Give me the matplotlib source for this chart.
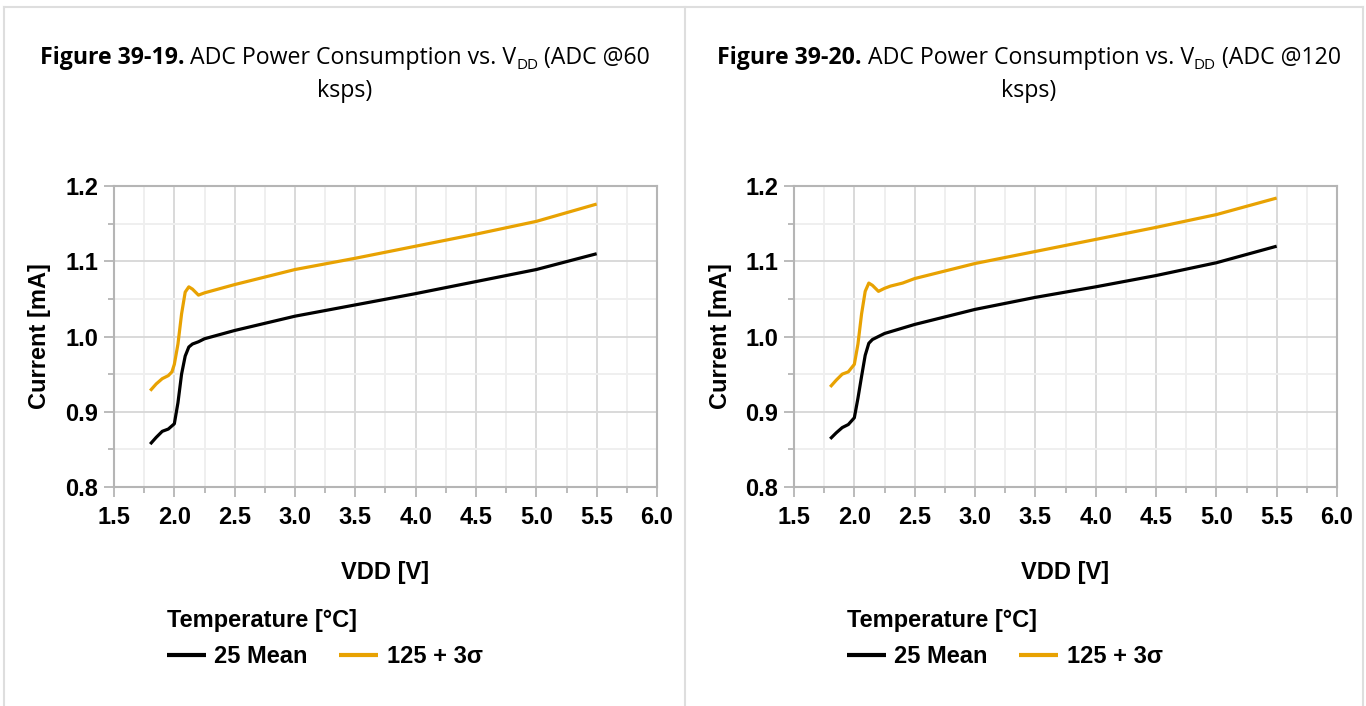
import matplotlib
matplotlib.use("Agg")
import matplotlib.pyplot as plt
from matplotlib.ticker import MultipleLocator
from matplotlib.lines import Line2D

# ---------------- data ----------------
vdd_black_60 = [1.80, 1.85, 1.90, 1.95, 2.00, 2.03, 2.06, 2.09, 2.12, 2.15, 2.20, 2.25, 2.50, 3.00, 3.50, 4.00, 4.50, 5.00, 5.50]
cur_black_60 = [0.857, 0.866, 0.874, 0.877, 0.884, 0.912, 0.950, 0.974, 0.986, 0.990, 0.993, 0.997, 1.008, 1.027, 1.042, 1.057, 1.073, 1.089, 1.110]
vdd_orange_60 = [1.80, 1.85, 1.90, 1.95, 1.98, 2.00, 2.03, 2.06, 2.09, 2.12, 2.15, 2.20, 2.25, 2.50, 3.00, 3.50, 4.00, 4.50, 5.00, 5.50]
cur_orange_60 = [0.928, 0.937, 0.944, 0.948, 0.953, 0.963, 0.990, 1.030, 1.059, 1.066, 1.063, 1.055, 1.058, 1.069, 1.089, 1.104, 1.120, 1.136, 1.153, 1.176]

vdd_black_120 = [1.80, 1.85, 1.90, 1.95, 2.00, 2.03, 2.06, 2.09, 2.12, 2.15, 2.20, 2.25, 2.50, 3.00, 3.50, 4.00, 4.50, 5.00, 5.50]
cur_black_120 = [0.864, 0.872, 0.879, 0.883, 0.892, 0.918, 0.947, 0.975, 0.991, 0.996, 1.000, 1.004, 1.016, 1.036, 1.052, 1.066, 1.081, 1.098, 1.120]
vdd_orange_120 = [1.80, 1.85, 1.90, 1.95, 2.00, 2.03, 2.06, 2.09, 2.12, 2.15, 2.20, 2.25, 2.30, 2.40, 2.50, 3.00, 3.50, 4.00, 4.50, 5.00, 5.50]
cur_orange_120 = [0.933, 0.942, 0.950, 0.953, 0.963, 0.990, 1.030, 1.060, 1.071, 1.068, 1.060, 1.064, 1.067, 1.071, 1.077, 1.097, 1.113, 1.129, 1.145, 1.162, 1.184]

series_labels = ["25 Mean", "125 + 3σ"]
series_colors = ["#000000", "#E8A202"]
legend_title = "Temperature [°C]"
fig_numbers = ["Figure 39-19.", "Figure 39-20."]
rates = ["60", "120"]
x_label = "VDD [V]"
y_label = "Current [mA]"

# ---------------- figure ----------------
W, H = 1366, 706
fig = plt.figure(figsize=(W / 100, H / 100), dpi=100)
plt.rcParams["font.family"] = ["Liberation Sans", "DejaVu Sans"]


def fx(x):
    return x / W


def fy(y):
    return 1 - y / H


frame_col = "#dedede"
for (x0, y0, x1, y1) in [(4, 7, 1363, 7), (4, 7, 4, 706), (685, 7, 685, 706), (1363, 7, 1363, 706)]:
    fig.add_artist(Line2D([fx(x0), fx(x1)], [fy(y0), fy(y1)], color=frame_col, lw=1.5))

panels = [
    dict(left=114, right=657, cx=345, black=(vdd_black_60, cur_black_60), orange=(vdd_orange_60, cur_orange_60)),
    dict(left=794, right=1337, cx=1029, black=(vdd_black_120, cur_black_120), orange=(vdd_orange_120, cur_orange_120)),
]
top, bottom = 186, 487
renderer = fig.canvas.get_renderer()
title_font = ["Open Sans", "DejaVu Sans"]
tsize = 16.7

for i, p in enumerate(panels):
    ax = fig.add_axes([fx(p["left"]), fy(bottom), (p["right"] - p["left"]) / W, (bottom - top) / H])
    ax.set_xlim(1.5, 6.0)
    ax.set_ylim(0.8, 1.2)
    ax.xaxis.set_major_locator(MultipleLocator(0.5))
    ax.xaxis.set_minor_locator(MultipleLocator(0.25))
    ax.yaxis.set_major_locator(MultipleLocator(0.1))
    ax.yaxis.set_minor_locator(MultipleLocator(0.05))
    ax.xaxis.set_major_formatter(matplotlib.ticker.FormatStrFormatter("%.1f"))
    ax.yaxis.set_major_formatter(matplotlib.ticker.FormatStrFormatter("%.1f"))
    ax.set_axisbelow(True)
    ax.grid(which="major", color="#d9d9d9", lw=1.4)
    ax.grid(which="minor", color="#efefef", lw=1.4)
    for s in ax.spines.values():
        s.set_color("#b5b5b5")
        s.set_linewidth(1.5)
    ax.tick_params(which="major", length=7.5, width=1.3, color="#b5b5b5", labelsize=17, pad=4)
    ax.tick_params(which="minor", length=4, width=1.3, color="#b5b5b5")
    ax.tick_params(axis="x", which="major", pad=6)
    for lbl in ax.get_xticklabels() + ax.get_yticklabels():
        lbl.set_fontweight("bold")

    bx, by = p["black"]
    ox, oy = p["orange"]
    l1, = ax.plot(bx, by, color=series_colors[0], lw=2.3, solid_capstyle="butt", label=series_labels[0])
    l2, = ax.plot(ox, oy, color=series_colors[1], lw=2.3, solid_capstyle="butt", label=series_labels[1])

    cx = (p["left"] + p["right"]) / 2
    fig.text(fx(cx), fy(573), x_label, ha="center", va="center", fontsize=17, fontweight="bold")
    fig.text(fx(p["left"] - 74), fy((top + bottom) / 2), y_label, ha="center", va="center",
             rotation=90, fontsize=17, fontweight="bold")

    leg = fig.legend(handles=[l1, l2], labels=series_labels, loc="upper left",
                     bbox_to_anchor=(fx(p["left"] + 41), fy(597)), frameon=False, ncol=2,
                     borderpad=0, handlelength=1.65, handletextpad=0.35, columnspacing=1.35,
                     labelspacing=0.55, title=legend_title, alignment="left",
                     prop=dict(family="Liberation Sans", weight="bold", size=17),
                     title_fontproperties=dict(family="Liberation Sans", weight="bold", size=17))
    for lh in leg.get_lines():
        lh.set_linewidth(3)

    # title: line 1 composed of bold + regular + subscript parts
    parts = [
        (fig_numbers[i] + " ", "bold", tsize, 0),
        ("ADC Power Consumption vs. V", "normal", tsize, 0),
        ("DD", "normal", tsize * 0.66, -5),
        (" (ADC @" + rates[i], "normal", tsize, 0),
    ]
    texts = []
    widths = []
    for s, w, sz, dy in parts:
        t = fig.text(0, fy(64) + dy / H, s, fontsize=sz, fontweight=w, family=title_font,
                     ha="left", va="baseline")
        bb = t.get_window_extent(renderer=renderer)
        texts.append(t)
        widths.append(bb.width)
    total = sum(widths)
    x = p["cx"] - total / 2
    for t, wdt in zip(texts, widths):
        t.set_x(fx(x))
        x += wdt
    fig.text(fx(p["cx"]), fy(97), "ksps)", fontsize=tsize, family=title_font, ha="center", va="baseline")

fig.savefig("out.png", dpi=100)
